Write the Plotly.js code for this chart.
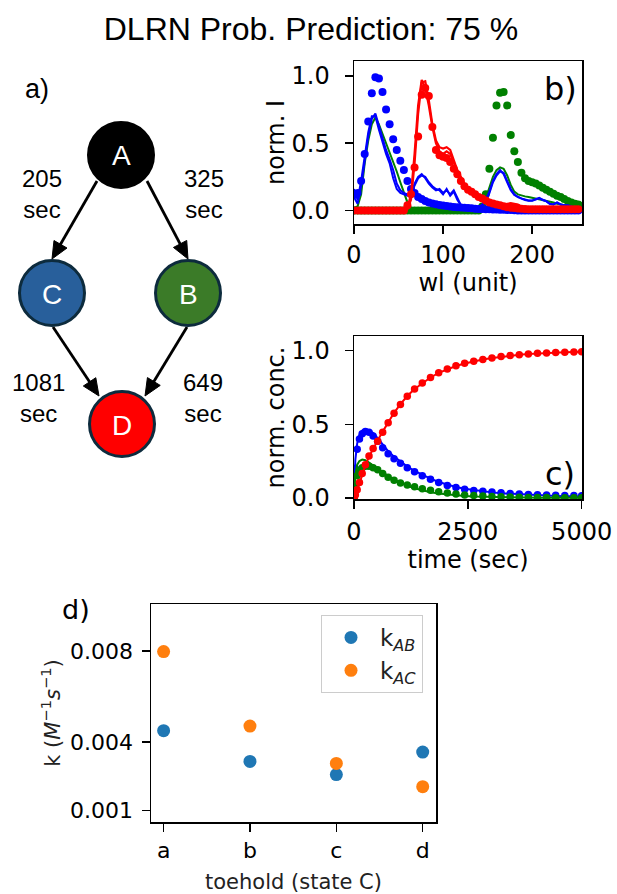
<!DOCTYPE html>
<html>
<head>
<meta charset="utf-8">
<script src="https://cdn.plot.ly/plotly-3.0.1.min.js"></script>
<style>html,body{margin:0;padding:0;background:#fff;}#chart{width:617px;height:894px;}</style>
</head>
<body>
<div id="chart"></div>
<script>
// ---------- data: panel b (spectra) ----------
const wl = [0,4,8,12,16,20,24,28,32,36,40,44,48,52,56,60,64,68,72,76,80,84,88,92,96,100,104,108,112,116,120,124,128,132,136,140,144,148,152,156,160,164,168,172,176,180,184,188,192,196,200,204,208,212,216,220,224,228,232,236,240,244,248,252];
const specBlueDots = [0.12,0.13,0.22,0.42,0.66,0.87,0.99,0.98,0.88,0.75,0.64,0.53,0.45,0.37,0.30,0.22,0.16,0.13,0.10,0.085,0.07,0.06,0.052,0.046,0.041,0.037,0.033,0.03,0.027,0.024,0.022,0.02,0.018,0.016,0.014,0.012,0.011,0.01,0.009,0.008,0.007,0.006,0.005,0.004,0.003,0.002,0.001,0,0,0,0,0,0,0,0,0,0,0,0,0,0,0,0,0];
const specGreenDots = [0,0,0,0,0,0,0,0,0,0,0,0,0,0,0,0,0,0,0,0,0,0,0,0,0,0,0,0,0,0,0,0,0,0,0,0,0.03,0.12,0.31,0.54,0.78,0.875,0.88,0.78,0.56,0.44,0.36,0.28,0.24,0.22,0.21,0.20,0.185,0.17,0.155,0.14,0.125,0.11,0.10,0.085,0.07,0.06,0.05,0.045];
const specRedDots = [0,0,0,0,0,0,0,0,0,0,0,0,0,0,0,0.04,0.12,0.32,0.55,0.86,0.91,0.85,0.62,0.45,0.41,0.40,0.39,0.36,0.31,0.27,0.22,0.18,0.155,0.14,0.12,0.10,0.09,0.075,0.06,0.052,0.045,0.04,0.032,0.025,0.02,0.018,0.015,0.013,0.012,0.01,0.01,0.01,0.01,0.01,0.01,0.01,0.01,0.01,0.01,0.01,0.01,0.01,0.01,0.01];
const specBlueLine1 = [0.16,0.08,0.22,0.42,0.58,0.70,0.70,0.60,0.50,0.42,0.35,0.24,0.16,0.13,0.12,0.11,0.12,0.20,0.25,0.27,0.24,0.20,0.17,0.15,0.16,0.13,0.15,0.12,0.15,0.09,0.04,0.03,0.025,0.02,0.02,0.025,0.04,0.07,0.13,0.21,0.26,0.29,0.28,0.22,0.16,0.12,0.10,0.09,0.08,0.075,0.075,0.085,0.095,0.08,0.07,0.05,0.045,0.06,0.045,0.04,0.04,0.03,0.02,0.02];
const specBlueLine2 = [0.10,0.05,0.18,0.38,0.55,0.68,0.72,0.63,0.53,0.45,0.38,0.30,0.20,0.15,0.13,0.12,0.13,0.19,0.24,0.26,0.25,0.21,0.18,0.16,0.15,0.12,0.16,0.11,0.14,0.08,0.04,0.03,0.028,0.024,0.022,0.028,0.045,0.08,0.14,0.22,0.27,0.30,0.27,0.21,0.15,0.115,0.10,0.088,0.078,0.072,0.072,0.08,0.09,0.078,0.068,0.048,0.045,0.058,0.044,0.038,0.038,0.028,0.02,0.018];
const specGreenLine = [0.02,0.03,0.12,0.35,0.52,0.64,0.69,0.64,0.57,0.50,0.44,0.36,0.29,0.21,0.14,0.06,0.02,0.012,0.01,0.01,0.01,0.01,0.01,0.01,0.01,0.01,0.01,0.01,0.01,0.01,0.01,0.01,0.01,0.01,0.01,0.01,0.03,0.09,0.17,0.25,0.30,0.32,0.31,0.26,0.19,0.14,0.12,0.11,0.105,0.10,0.095,0.09,0.085,0.08,0.07,0.065,0.06,0.05,0.045,0.04,0.035,0.03,0.025,0.02];
const specRedLine1 = [0,0,0,0,0,0,0,0,0,0,0,0,0,0,0,0.01,0.08,0.35,0.72,0.95,0.96,0.82,0.64,0.52,0.47,0.46,0.47,0.45,0.37,0.30,0.25,0.20,0.17,0.14,0.12,0.10,0.085,0.07,0.06,0.05,0.045,0.04,0.045,0.05,0.055,0.05,0.045,0.03,0.02,0.015,0.012,0.012,0.011,0.011,0.01,0.01,0.01,0.01,0.01,0.01,0.01,0.01,0.01,0.01];
const specRedLine2 = [0,0,0,0,0,0,0,0,0,0,0,0,0,0,0,0.02,0.12,0.42,0.78,0.97,0.91,0.78,0.62,0.50,0.44,0.42,0.44,0.42,0.35,0.29,0.24,0.19,0.16,0.135,0.115,0.095,0.08,0.066,0.055,0.046,0.04,0.038,0.04,0.045,0.048,0.045,0.04,0.028,0.018,0.014,0.011,0.011,0.01,0.01,0.01,0.01,0.01,0.01,0.01,0.01,0.01,0.01,0.01,0.01];

// ---------- data: panel c (kinetics) ----------
const time = [0,30,70,120,180,250,330,420,520,630,750,880,1020,1170,1330,1500,1680,1860,2050,2240,2430,2630,2830,3030,3230,3430,3630,3830,4030,4230,4430,4630,4830,5000];
const concBlueDots = [0,0.20,0.33,0.40,0.435,0.45,0.445,0.42,0.385,0.34,0.30,0.265,0.235,0.205,0.178,0.15,0.126,0.104,0.084,0.07,0.058,0.05,0.044,0.039,0.034,0.03,0.026,0.023,0.021,0.019,0.017,0.016,0.015,0.014];
const concBlueLine = [0,0.26,0.37,0.43,0.458,0.466,0.46,0.44,0.405,0.36,0.318,0.28,0.245,0.213,0.183,0.155,0.13,0.108,0.089,0.074,0.062,0.052,0.044,0.037,0.031,0.027,0.023,0.02,0.017,0.015,0.013,0.011,0.01,0.009];
const concGreenDots = [0,0.08,0.15,0.185,0.205,0.215,0.215,0.205,0.19,0.165,0.14,0.12,0.10,0.088,0.075,0.062,0.051,0.041,0.033,0.026,0.02,0.016,0.012,0.009,0.007,0.005,0.004,0.003,0.002,0.002,0.001,0.001,0.001,0.001];
const concGreenLine = [0,0.16,0.225,0.25,0.26,0.255,0.24,0.22,0.198,0.173,0.148,0.124,0.102,0.082,0.065,0.05,0.038,0.029,0.022,0.016,0.012,0.009,0.007,0.005,0.004,0.003,0.002,0.002,0.001,0.001,0.001,0.001,0,0];
const concRedDots = [0,0.02,0.055,0.105,0.165,0.225,0.285,0.335,0.385,0.445,0.51,0.575,0.635,0.69,0.74,0.78,0.818,0.85,0.876,0.897,0.914,0.929,0.941,0.951,0.96,0.967,0.973,0.978,0.982,0.985,0.988,0.99,0.992,0.993];
const concRedLine = [0,0.015,0.05,0.10,0.16,0.22,0.28,0.335,0.39,0.45,0.515,0.578,0.637,0.692,0.74,0.78,0.818,0.849,0.875,0.896,0.913,0.928,0.94,0.95,0.959,0.966,0.972,0.977,0.981,0.984,0.987,0.989,0.991,0.993];

// ---------- data: panel d (rates) ----------
const toehold = ['a','b','c','d'];
const kAB = [0.0045,0.00315,0.00257,0.00356];
const kAC = [0.00797,0.0047,0.00306,0.00204];
const kTicks = [0.001,0.004,0.008];
const kTickText = ['0.001','0.004','0.008'];

// ---------- data: panel a (network) ----------
const nodeNames = ['A','C','B','D'];
const edgeTimes = [205,325,1081,649];

// ---------- helpers ----------
const W = 617, H = 894;
const px = x => x / W;
const py = y => 1 - y / H;
const DJ = 'DejaVu Sans';
const AR = 'Liberation Sans, Arial';

const traces = [];
function dots(x, y, color, size, xa, ya) {
  traces.push({x, y, type:'scatter', mode:'markers', xaxis:xa, yaxis:ya, showlegend:false,
    marker:{color, size, line:{width:0}}, hoverinfo:'skip'});
}
function line(x, y, color, width, xa, ya) {
  traces.push({x, y, type:'scatter', mode:'lines', xaxis:xa, yaxis:ya, showlegend:false,
    line:{color, width}, hoverinfo:'skip'});
}
// panel b
dots(wl, specGreenDots, 'green', 8, 'x', 'y');
line(wl, specGreenLine, 'green', 2, 'x', 'y');
dots(wl, specBlueDots, 'blue', 8, 'x', 'y');
line(wl, specBlueLine1, 'blue', 2, 'x', 'y');
line(wl, specBlueLine2, 'blue', 2, 'x', 'y');
dots(wl, specRedDots, 'red', 8, 'x', 'y');
line(wl, specRedLine1, 'red', 2.2, 'x', 'y');
line(wl, specRedLine2, 'red', 2.2, 'x', 'y');
// panel c
dots(time, concBlueDots, 'blue', 7.5, 'x2', 'y2');
line(time, concBlueLine, 'blue', 2, 'x2', 'y2');
dots(time, concGreenDots, 'green', 7.5, 'x2', 'y2');
line(time, concGreenLine, 'green', 2, 'x2', 'y2');
dots(time, concRedDots, 'red', 7.5, 'x2', 'y2');
line(time, concRedLine, 'red', 2, 'x2', 'y2');
// panel d
traces.push({x:toehold, y:kAB, type:'scatter', mode:'markers', xaxis:'x3', yaxis:'y3',
  name:'k<sub><i>AB</i></sub>', legendgroup:'ab', marker:{color:'#1f77b4', size:13}});
traces.push({x:toehold, y:kAC, type:'scatter', mode:'markers', xaxis:'x3', yaxis:'y3',
  name:'k<sub><i>AC</i></sub>', legendgroup:'ac', marker:{color:'#ff7f0e', size:13}});

function axis(extra, fs) {
  return Object.assign({
    showline:true, linecolor:'black', linewidth:1.5, mirror:true,
    ticks:'outside', ticklen:8, tickwidth:1.5, tickcolor:'black', ticklabelstandoff:3,
    showgrid:false, zeroline:false, fixedrange:true,
    tickfont:{family:DJ, size:fs, color:'black'}
  }, extra);
}

// ---------- panel a shapes & annotations ----------
const shapes = [];
const annotations = [];
const nodePos = {A:[121,155], C:[52,293], B:[188,293], D:[122,424]};
const nodeFill = {A:'black', C:'#285f9b', B:'#3b7b28', D:'#ff0000'};
const nodeLine = {A:'black', C:'#0d2b3d', B:'#0d2b3d', D:'#0d2b3d'};
const R = 34;
// arrows (tip, tail) drawn as line + filled triangular head
const arrows = [[[52,259],[97,181]], [[188,259],[147,181]], [[99,396],[53,327]], [[145,396],[187,327]]];
const HEAD_L = 17, HEAD_W = 7.5;
arrows.forEach(a => {
  const [tx, ty] = a[0], [sx, sy] = a[1];
  const L = Math.hypot(tx - sx, ty - sy);
  const ux = (tx - sx) / L, uy = (ty - sy) / L;
  const bx = tx - ux * HEAD_L, by = ty - uy * HEAD_L;
  const nx = -uy, ny = ux;
  shapes.push({type:'line', xref:'paper', yref:'paper', x0:px(sx), y0:py(sy), x1:px(bx + ux*2), y1:py(by + uy*2),
    line:{color:'black', width:2.8}, layer:'above'});
  const path = 'M' + px(tx) + ',' + py(ty) +
    ' L' + px(bx + nx*HEAD_W) + ',' + py(by + ny*HEAD_W) +
    ' L' + px(bx - nx*HEAD_W) + ',' + py(by - ny*HEAD_W) + ' Z';
  shapes.push({type:'path', xref:'paper', yref:'paper', path, fillcolor:'black', line:{color:'black', width:1}, layer:'above'});
});
nodeNames.forEach(n => {
  const [cx, cy] = nodePos[n];
  shapes.push({type:'circle', xref:'paper', yref:'paper', x0:px(cx-R+1.5), x1:px(cx+R-1.5), y0:py(cy+R-1.5), y1:py(cy-R+1.5),
    fillcolor:nodeFill[n], line:{color:nodeLine[n], width:3}, layer:'above'});
  annotations.push({xref:'paper', yref:'paper', x:px(cx), y:py(cy+1), text:n, showarrow:false,
    xanchor:'center', yanchor:'middle', font:{family:AR, size:28, color:'white'}});
});
const labelPos = [[42,194],[204,194],[38,398],[203,398]];
edgeTimes.forEach((t, i) => {
  annotations.push({xref:'paper', yref:'paper', x:px(labelPos[i][0]), y:py(labelPos[i][1]),
    text:t + '<br>sec', showarrow:false, xanchor:'center', yanchor:'middle', align:'center',
    font:{family:AR, size:24, color:'black'}});
});
annotations.push({xref:'paper', yref:'paper', x:px(37), y:py(89), text:'a)', showarrow:false,
  xanchor:'center', yanchor:'middle', font:{family:AR, size:27, color:'black'}});
annotations.push({xref:'paper', yref:'paper', x:px(560), y:py(89), text:'b)', showarrow:false,
  xanchor:'center', yanchor:'middle', font:{family:DJ, size:32, color:'black'}});
annotations.push({xref:'paper', yref:'paper', x:px(560), y:py(474), text:'c)', showarrow:false,
  xanchor:'center', yanchor:'middle', font:{family:DJ, size:32, color:'black'}});
annotations.push({xref:'paper', yref:'paper', x:px(76), y:py(609), text:'d)', showarrow:false,
  xanchor:'center', yanchor:'middle', font:{family:DJ, size:27, color:'black'}});

const layout = {
  width:W, height:H, margin:{l:0, r:0, t:0, b:0},
  paper_bgcolor:'white', plot_bgcolor:'white',
  font:{family:DJ, color:'black'},
  title:{text:'DLRN Prob. Prediction: 75 %', x:0.504, xanchor:'center', y:py(29), yanchor:'middle', yref:'container',
    font:{family:AR, size:32, color:'black'}},
  xaxis: axis({domain:[px(354), px(582)], range:[0,256], tickvals:[0,100,200], anchor:'y', ticklabelstandoff:1,
    title:{text:'wl (unit)', font:{family:DJ, size:24, color:'black'}, standoff:0}}, 24),
  yaxis: axis({domain:[py(224), py(61)], range:[-0.1,1.11], tickvals:[0,0.5,1], ticktext:['0.0','0.5','1.0'], anchor:'x', ticklabelstandoff:10,
    title:{text:'norm. I', font:{family:DJ, size:24, color:'black'}, standoff:0}}, 24),
  xaxis2: axis({domain:[px(354), px(582)], range:[0,5008], tickvals:[0,2500,5000], anchor:'y2',
    title:{text:'time (sec)', font:{family:DJ, size:24, color:'black'}, standoff:6}}, 24),
  yaxis2: axis({domain:[py(499), py(336)], range:[-0.008,1.10], tickvals:[0,0.5,1], ticktext:['0.0','0.5','1.0'], anchor:'x2', ticklabelstandoff:10,
    title:{text:'norm. conc.', font:{family:DJ, size:24, color:'black'}, standoff:0}}, 24),
  xaxis3: axis({domain:[px(151), px(436)], type:'category', range:[-0.146,3.154], anchor:'y3', ticklabelstandoff:0,
    title:{text:'toehold (state C)', font:{family:DJ, size:21, color:'#222'}, standoff:14}}, 22),
  yaxis3: axis({domain:[py(822), py(604)], range:[0.00049,0.01006], tickvals:kTicks, ticktext:kTickText, anchor:'x3', ticklabelstandoff:4,
    title:{text:'k (<i>M</i><sup>\u22121</sup><i>s</i><sup>\u22121</sup>)', font:{family:DJ, size:21, color:'#222'}, standoff:4}}, 22),
  showlegend:true,
  legend:{x:px(321), y:py(615), xanchor:'left', yanchor:'top', bgcolor:'rgba(255,255,255,0.8)',
    bordercolor:'#cccccc', borderwidth:1, font:{family:DJ, size:23, color:'#222'},
    traceorder:'grouped', tracegroupgap:0, itemwidth:48},
  shapes, annotations
};

Plotly.newPlot('chart', traces, layout, {displayModeBar:false, staticPlot:true});
</script>
</body>
</html>
